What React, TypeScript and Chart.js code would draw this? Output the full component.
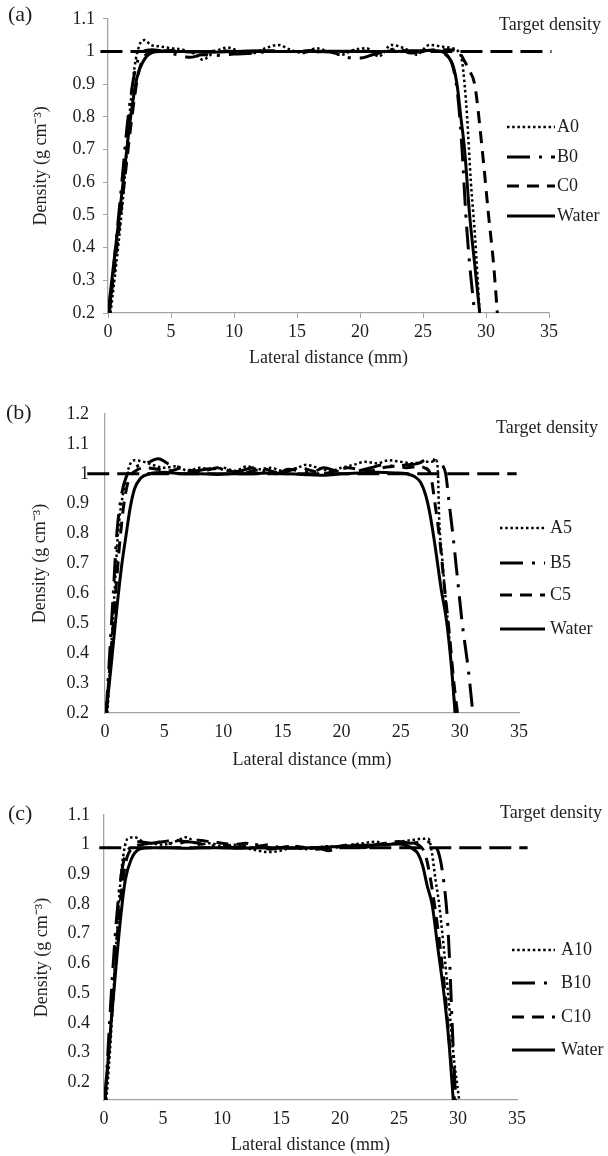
import React, { useEffect, useRef } from "react";
import { Chart, registerables } from "chart.js";
Chart.register(...registerables);

// ---------- tick values ----------
const xTicks = [0, 5, 10, 15, 20, 25, 30, 35];
const yTicksA = [0.2, 0.3, 0.4, 0.5, 0.6, 0.7, 0.8, 0.9, 1, 1.1];
const yTicksB = [0.2, 0.3, 0.4, 0.5, 0.6, 0.7, 0.8, 0.9, 1, 1.1, 1.2];
const yTicksC = [0.2, 0.3, 0.4, 0.5, 0.6, 0.7, 0.8, 0.9, 1, 1.1];

// ---------- panel (a) ----------
const aLegend = ["A0", "B0", "C0", "Water"];
const aTargetX = [-0.6, 35.2];
const aTargetY = [1, 1];
const aA0X = [0.2, 0.8, 1.3, 1.7, 2.1, 2.5, 2.9, 3.4, 4.2, 5, 6, 7, 7.5, 8.5, 9.5, 10.5, 11.5, 12.5, 13.5, 14.5, 15.5, 16.5, 17.5, 18.5, 19.5, 20.5, 21.5, 22.5, 23.5, 24.5, 25.5, 26.5, 27.3, 27.8, 28.1, 28.3, 28.5, 28.8, 29.1, 29.5];
const aA0Y = [0.2, 0.4, 0.6, 0.8, 0.95, 1.02, 1.035, 1.02, 1.015, 1.01, 1.005, 0.99, 0.975, 1.0, 1.012, 1.0, 0.995, 1.01, 1.02, 1.005, 0.995, 1.01, 1.0, 0.99, 1.005, 1.01, 0.985, 1.02, 1.01, 0.99, 1.02, 1.015, 1.01, 1.0, 0.97, 0.9, 0.8, 0.6, 0.45, 0.2];
const aB0X = [0.1, 0.6, 1.1, 1.6, 2.2, 2.8, 3.5, 4.5, 5.5, 6.5, 7.5, 8.5, 10, 11.5, 13, 14.5, 16, 17.5, 19, 20, 21, 22, 23, 24, 25, 26, 26.8, 27.4, 27.8, 28.1, 28.4, 28.7, 29.1];
const aB0Y = [0.2, 0.4, 0.6, 0.8, 0.95, 1.0, 1.005, 1.0, 0.99, 0.982, 0.99, 0.988, 0.992, 0.995, 1.0, 1.0, 0.998, 1.0, 0.982, 0.98, 0.99, 1.0, 1.01, 0.995, 1.0, 1.0, 0.99, 0.95, 0.85, 0.7, 0.5, 0.35, 0.2];
const aC0X = [0.1, 0.7, 1.3, 1.9, 2.4, 3.0, 3.8, 5, 6, 7, 8, 9, 10, 11, 12, 13, 14, 15, 16, 17, 18, 19, 20, 21, 22, 23, 24, 25, 26, 27, 27.8, 28.3, 28.7, 29.1, 29.7, 30.2, 30.6, 30.9];
const aC0Y = [0.2, 0.4, 0.6, 0.8, 0.93, 0.99, 1.0, 1.003, 1.0, 0.998, 1.0, 1.002, 1.0, 0.998, 1.0, 1.002, 1.0, 1.0, 1.003, 1.0, 0.998, 1.0, 1.002, 1.0, 1.0, 1.005, 1.0, 1.002, 1.005, 1.005, 1.0, 0.97, 0.94, 0.9, 0.7, 0.5, 0.35, 0.2];
const aWaterX = [0, 0.6, 1.2, 1.8, 2.3, 2.8, 3.4, 4.2, 6, 8, 10, 12, 14, 16, 18, 20, 22, 24, 25.5, 26.5, 27.0, 27.4, 27.7, 28.0, 28.3, 28.7, 29.1, 29.5];
const aWaterY = [0.2, 0.4, 0.6, 0.8, 0.92, 0.97, 0.995, 1.0, 1.0, 0.998, 1.0, 1.002, 1.0, 1.0, 1.001, 1.0, 1.0, 1.002, 1.003, 1.0, 0.985, 0.955, 0.9, 0.8, 0.7, 0.5, 0.35, 0.2];

// ---------- panel (b) ----------
const bLegend = ["A5", "B5", "C5", "Water"];
const bTargetX = [-1.5, 34.8];
const bTargetY = [1, 1];
const bA5X = [0.2, 0.5, 0.8, 1.1, 1.6, 2.1, 2.5, 3.3, 4, 5, 6, 7, 8, 9, 10, 11, 12, 13, 14, 15, 16, 17, 18, 19, 20, 21, 22, 23, 24, 25, 26, 27, 27.6, 28.0, 28.15, 28.25, 28.5, 28.8, 29.0, 29.3, 29.6];
const bA5Y = [0.2, 0.4, 0.6, 0.8, 0.95, 1.03, 1.045, 1.04, 1.03, 1.02, 1.025, 1.01, 1.02, 1.015, 1.02, 1.01, 1.025, 1.015, 1.02, 1.01, 1.015, 1.03, 1.02, 1.01, 1.02, 1.03, 1.04, 1.035, 1.045, 1.04, 1.035, 1.04, 1.04, 1.045, 1.0, 0.85, 0.72, 0.58, 0.5, 0.35, 0.2];
const bB5X = [0.1, 0.4, 0.7, 1.0, 1.4, 1.8, 2.5, 3.5, 4.5, 5.5, 6.5, 7.5, 8.5, 9.5, 10.5, 11.5, 12.5, 13.5, 14.5, 15.5, 16.5, 17.5, 18.5, 19.5, 20.5, 21.5, 22.5, 23.5, 24.5, 25.5, 26.5, 27.3, 27.9, 28.5, 28.8, 29.1, 29.4, 29.8, 30.2, 30.7, 31.1];
const bB5Y = [0.2, 0.4, 0.6, 0.8, 0.93, 0.99, 1.02, 1.035, 1.05, 1.03, 1.02, 1.01, 1.015, 1.02, 1.005, 1.01, 1.02, 1.01, 1.0, 1.015, 1.01, 1.005, 1.02, 1.01, 1.0, 1.01, 1.02, 1.03, 1.025, 1.03, 1.035, 1.05, 1.045, 1.03, 1.0, 0.9, 0.8, 0.65, 0.5, 0.35, 0.2];
const bC5X = [0.1, 0.5, 0.9, 1.2, 1.6, 2.0, 2.6, 3.5, 4.5, 5.5, 6.5, 7.5, 8.5, 9.5, 10.5, 11.5, 12.5, 13.5, 14.5, 15.5, 16.5, 17.5, 18.5, 19.5, 20.5, 21.5, 22.5, 23.5, 24.5, 25.5, 26.5, 27.0, 27.5, 27.9, 28.3, 28.7, 29.1, 29.5, 29.8];
const bC5Y = [0.2, 0.4, 0.6, 0.75, 0.9, 0.98, 1.01, 1.02, 1.015, 1.01, 1.02, 1.005, 1.01, 1.02, 1.01, 1.0, 1.01, 1.015, 1.005, 1.01, 1.02, 1.01, 1.0, 1.01, 1.02, 1.015, 1.01, 1.02, 1.025, 1.02, 1.025, 1.02, 1.0, 0.9, 0.78, 0.62, 0.47, 0.3, 0.2];
const bWaterX = [0.1, 0.5, 1.0, 1.4, 1.8, 2.1, 2.5, 3.0, 3.8, 5, 6.5, 8, 9.5, 11, 12.5, 14, 15.5, 17, 18.5, 20, 21.5, 23, 24.5, 25.5, 26.2, 26.7, 27.1, 27.5, 27.9, 28.4, 28.9, 29.3, 29.6];
const bWaterY = [0.2, 0.35, 0.55, 0.69, 0.8, 0.88, 0.95, 0.985, 1.0, 1.005, 1.0, 1.0, 0.998, 1.0, 1.0, 1.003, 1.0, 0.997, 0.995, 1.0, 1.003, 1.005, 1.003, 1.0, 0.99, 0.97, 0.93, 0.86, 0.76, 0.62, 0.5, 0.35, 0.2];

// ---------- panel (c) ----------
const cLegend = ["A10", "B10", "C10", "Water"];
const cTargetX = [-0.4, 35.9];
const cTargetY = [0.99, 0.99];
const cA10X = [0.2, 0.5, 0.8, 1.1, 1.4, 1.7, 2.0, 2.6, 3.3, 4, 5, 6, 7, 8, 9, 10, 11, 12, 13, 14, 15, 16, 17, 18, 19, 20, 21, 22, 23, 24, 25, 26, 27.0, 27.5, 27.8, 28.1, 28.4, 28.8, 29.2, 29.6, 30.1];
const cA10Y = [0.14, 0.3, 0.5, 0.7, 0.88, 0.98, 1.02, 1.025, 1.01, 1.005, 1.0, 1.01, 1.025, 1.0, 1.005, 0.995, 1.0, 0.99, 0.98, 0.975, 0.98, 0.99, 0.985, 0.99, 0.995, 0.99, 1.0, 1.005, 1.01, 1.0, 1.01, 1.015, 1.02, 1.02, 0.97, 0.88, 0.8, 0.65, 0.48, 0.3, 0.14];
const cB10X = [0.1, 0.4, 0.7, 1.0, 1.3, 1.7, 2.2, 3.0, 4, 5, 6, 7, 8, 9, 10, 11, 12, 13, 14, 15, 16, 17, 18, 19, 20, 21, 22, 23, 24, 25, 26, 27.2, 28.0, 28.5, 28.9, 29.1, 29.3, 29.5, 29.8];
const cB10Y = [0.14, 0.35, 0.55, 0.72, 0.85, 0.95, 0.99, 1.01, 1.005, 1.01, 1.0, 1.01, 1.005, 0.995, 1.0, 0.99, 0.995, 1.0, 0.985, 0.99, 0.995, 0.985, 0.99, 0.98, 0.99, 1.0, 0.99, 1.0, 1.005, 1.01, 1.005, 1.01, 1.0, 0.95, 0.84, 0.75, 0.6, 0.4, 0.14];
const cC10X = [0.1, 0.4, 0.8, 1.1, 1.5, 1.9, 2.5, 3.2, 4, 5, 6, 7, 8, 9, 10, 11, 12, 13, 14, 15, 16, 17, 18, 19, 20, 21, 22, 23, 24, 25, 26, 26.6, 27.2, 27.6, 28.0, 28.5, 28.9, 29.3, 29.7];
const cC10Y = [0.14, 0.3, 0.5, 0.68, 0.85, 0.95, 0.99, 1.0, 1.005, 1.01, 1.015, 1.01, 1.015, 1.01, 1.005, 1.0, 1.005, 0.995, 1.0, 0.99, 0.995, 0.99, 0.985, 0.99, 0.995, 1.0, 0.995, 1.0, 1.005, 1.01, 1.005, 1.0, 0.97, 0.9, 0.8, 0.65, 0.5, 0.32, 0.14];
const cWaterX = [0.05, 0.3, 0.6, 1.0, 1.4, 1.8, 2.3, 3.0, 4.0, 5.5, 7, 8.5, 10, 11.5, 13, 14.5, 16, 17.5, 19, 20.5, 22, 23.5, 25, 26.0, 26.6, 27.0, 27.4, 27.8, 28.3, 28.8, 29.2, 29.6];
const cWaterY = [0.14, 0.25, 0.4, 0.58, 0.75, 0.88, 0.95, 0.985, 0.99, 0.99, 0.988, 0.99, 0.99, 0.988, 0.99, 0.99, 0.988, 0.99, 0.992, 0.995, 0.998, 1.0, 1.002, 0.99, 0.97, 0.93, 0.86, 0.8, 0.65, 0.5, 0.35, 0.14];

// ---------- styles ----------
const FONT = '"Liberation Serif", "Times New Roman", serif';
const TEXT = "#1e1e1e";
const AXIS = "#a3a3a3";
const LINE_STYLES = [
  { dash: [2.5, 2.7], width: 2.5 }, // A dotted
  { dash: [23, 9, 3, 9], width: 3 }, // B long dash dot
  { dash: [12, 8], width: 3 }, // C dashed
  { dash: [], width: 3 }, // Water solid
];
const TARGET_STYLE = { dash: [22, 8], width: 3 };

const zip = (xs: number[], ys: number[]) => xs.map((x, i) => ({ x, y: ys[i] }));

type Panel = {
  tag: string;
  top: number;
  h: number;
  left: number;
  right: number;
  plotTop: number;
  plotBottom: number;
  yMin: number;
  yMax: number;
  yTicks: number[];
  tickMarks: boolean;
  yTickPad: number;
  xTickPad: number;
  xTitlePad: number;
  yTitlePad: number;
  tagX: number;
  tagY: number;
  targetX: number;
  targetY: number;
  legend: string[];
  legX0: number;
  legX1: number;
  legTextX: number;
  legY: number[];
  series: { x: number[]; y: number[] }[];
  target: { x: number[]; y: number[] };
};

const panels: Panel[] = [
  {
    tag: "(a)", top: 0, h: 380, left: 108, right: 549, plotTop: 15, plotBottom: 313,
    yMin: 0.2, yMax: 1.1, yTicks: yTicksA, tickMarks: true, yTickPad: 8, xTickPad: 3,
    xTitlePad: 11, yTitlePad: 30, tagX: 8, tagY: 15, targetX: 499, targetY: 25,
    legend: aLegend, legX0: 507, legX1: 555, legTextX: 557, legY: [127, 157, 186, 216],
    series: [{ x: aA0X, y: aA0Y }, { x: aB0X, y: aB0Y }, { x: aC0X, y: aC0Y }, { x: aWaterX, y: aWaterY }],
    target: { x: aTargetX, y: aTargetY },
  },
  {
    tag: "(b)", top: 380, h: 400, left: 105, right: 519, plotTop: 414, plotBottom: 713,
    yMin: 0.2, yMax: 1.2, yTicks: yTicksB, tickMarks: false, yTickPad: 16, xTickPad: 8,
    xTitlePad: 9, yTitlePad: 29, tagX: 6, tagY: 413, targetX: 496, targetY: 428,
    legend: bLegend, legX0: 500, legX1: 545, legTextX: 550, legY: [528, 563, 595, 629],
    series: [{ x: bA5X, y: bA5Y }, { x: bB5X, y: bB5Y }, { x: bC5X, y: bC5Y }, { x: bWaterX, y: bWaterY }],
    target: { x: bTargetX, y: bTargetY },
  },
  {
    tag: "(c)", top: 780, h: 376, left: 104, right: 517, plotTop: 815, plotBottom: 1100,
    yMin: 0.14, yMax: 1.1, yTicks: yTicksC, tickMarks: false, yTickPad: 14, xTickPad: 8,
    xTitlePad: 0, yTitlePad: 31, tagX: 8, tagY: 814, targetX: 500, targetY: 813,
    legend: cLegend, legX0: 512, legX1: 555, legTextX: 561, legY: [950, 983, 1017, 1050],
    series: [{ x: cA10X, y: cA10Y }, { x: cB10X, y: cB10Y }, { x: cC10X, y: cC10Y }, { x: cWaterX, y: cWaterY }],
    target: { x: cTargetX, y: cTargetY },
  },
];

function annotations(p: Panel) {
  return {
    id: "annot" + p.tag,
    afterDraw(chart: any) {
      const ctx = chart.ctx as CanvasRenderingContext2D;
      ctx.save();
      ctx.fillStyle = TEXT;
      ctx.strokeStyle = "#000";
      ctx.textBaseline = "middle";
      ctx.textAlign = "left";
      ctx.font = `22px ${FONT}`;
      ctx.fillText(p.tag, p.tagX, p.tagY - p.top);
      ctx.font = `18px ${FONT}`;
      ctx.fillText("Target density", p.targetX, p.targetY - p.top);
      p.legend.forEach((name, i) => {
        const y = p.legY[i] - p.top;
        const st = LINE_STYLES[i];
        ctx.lineWidth = st.width;
        ctx.setLineDash(st.dash);
        ctx.beginPath();
        ctx.moveTo(p.legX0, y);
        ctx.lineTo(p.legX1, y);
        ctx.stroke();
        ctx.setLineDash([]);
        ctx.fillText(name, p.legTextX, y);
      });
      ctx.restore();
    },
  };
}

function PanelChart({ p }: { p: Panel }) {
  const ref = useRef<HTMLCanvasElement>(null);
  useEffect(() => {
    if (!ref.current) return;
    const font = { family: FONT, size: 18 };
    const datasets: any[] = p.series.map((s, i) => ({
      label: p.legend[i],
      data: zip(s.x, s.y),
      borderColor: "#000",
      backgroundColor: "#000",
      borderWidth: LINE_STYLES[i].width,
      borderDash: LINE_STYLES[i].dash,
      pointRadius: 0,
      fill: false,
      cubicInterpolationMode: "monotone",
    }));
    datasets.push({
      label: "Target density",
      data: zip(p.target.x, p.target.y),
      borderColor: "#000",
      borderWidth: TARGET_STYLE.width,
      borderDash: TARGET_STYLE.dash,
      pointRadius: 0,
      fill: false,
      clip: false,
    });
    const chart = new Chart(ref.current, {
      type: "line",
      data: { datasets },
      options: {
        animation: false,
        responsive: false,
        devicePixelRatio: 1,
        layout: { padding: { left: 0, right: 608 - p.right, top: p.plotTop - p.top, bottom: 0 } },
        plugins: { legend: { display: false }, tooltip: { enabled: false } },
        scales: {
          x: {
            type: "linear",
            min: 0,
            max: 35,
            afterBuildTicks: (s: any) => { s.ticks = xTicks.map((v) => ({ value: v })); },
            afterFit: (s: any) => { s.height = p.top + p.h - p.plotBottom; },
            ticks: { font, color: TEXT, padding: p.xTickPad, maxRotation: 0, autoSkip: false, callback: (v: any) => String(v) },
            grid: { display: true, drawOnChartArea: false, drawTicks: p.tickMarks, tickLength: 5, color: AXIS },
            border: { display: true, color: AXIS, width: 1.3 },
            title: { display: true, text: "Lateral distance (mm)", font, color: TEXT, padding: { top: 0, bottom: p.xTitlePad } },
          },
          y: {
            type: "linear",
            min: p.yMin,
            max: p.yMax,
            afterBuildTicks: (s: any) => { s.ticks = p.yTicks.map((v) => ({ value: v })); },
            afterFit: (s: any) => { s.width = p.left; },
            ticks: { font, color: TEXT, padding: p.yTickPad, autoSkip: false, callback: (v: any) => String(Math.round(Number(v) * 10) / 10) },
            grid: { display: true, drawOnChartArea: false, drawTicks: p.tickMarks, tickLength: 5, color: AXIS },
            border: { display: true, color: AXIS, width: 1.3 },
            title: { display: true, text: "Density (g cm\u207B\u00B3)", font, color: TEXT, padding: { top: p.yTitlePad, bottom: 0 } },
          },
        },
      } as any,
      plugins: [annotations(p)],
    });
    return () => chart.destroy();
  }, [p]);
  return (
    <canvas
      ref={ref}
      width={608}
      height={p.h}
      style={{ position: "absolute", left: 0, top: p.top, width: 608, height: p.h }}
    />
  );
}

export default function App() {
  return (
    <div style={{ position: "absolute", left: 0, top: 0, width: 608, height: 1156, background: "#fff" }}>
      {panels.map((p) => (
        <PanelChart key={p.tag} p={p} />
      ))}
    </div>
  );
}
